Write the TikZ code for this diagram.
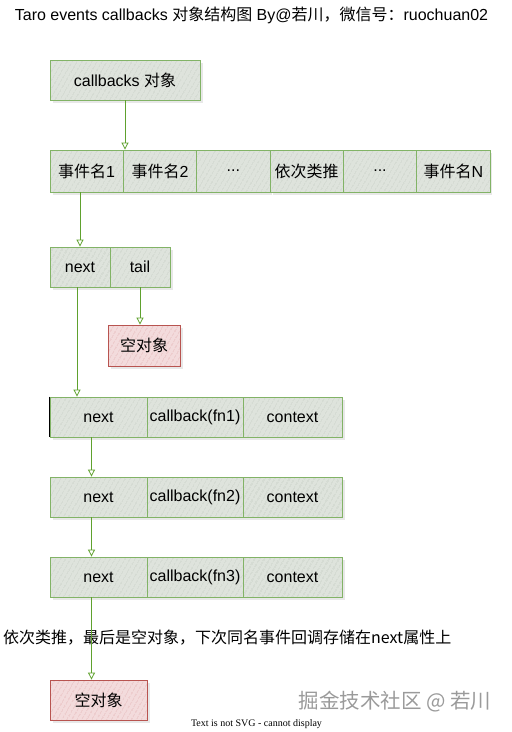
\documentclass[tikz,border=0pt]{standalone}
\usepackage{fontspec}
\setmainfont{Liberation Sans}
\newfontfamily\cjk{Noto Sans CJK SC}
\newfontfamily\serifx{Liberation Serif}
\usetikzlibrary{arrows.meta,patterns.meta,shadows,positioning}
\definecolor{gborder}{HTML}{82B366}
\definecolor{gfill}{HTML}{DEE3DC}
\definecolor{ghatch}{HTML}{C6CDC4}
\definecolor{rborder}{HTML}{B85450}
\definecolor{rfill}{HTML}{F3DBDC}
\definecolor{rhatch}{HTML}{E2B3B4}
\definecolor{arrowc}{HTML}{5FA12E}
\definecolor{wmark}{HTML}{9A9A9A}
\tikzset{
  px/.style={x=1pt,y=-1pt},
  basebox/.style={inner sep=0pt, line width=0.8pt, font=\fontsize{16}{16}\selectfont, text=black,
    drop shadow={opacity=0.18, shadow xshift=2.5pt, shadow yshift=-2.5pt}},
  gbox/.style={basebox, draw=gborder, preaction={fill=gfill},
    pattern={Lines[angle=60,distance=4pt,line width=0.6pt]}, pattern color=ghatch},
  rbox/.style={basebox, draw=rborder, preaction={fill=rfill},
    pattern={Lines[angle=60,distance=4pt,line width=0.6pt]}, pattern color=rhatch},
  arr/.style={draw=arrowc, line width=0.8pt, -{Triangle[open,length=7pt,width=7pt]}},
}
\begin{document}
\begin{tikzpicture}[px]
\useasboundingbox (0,0) rectangle (512,732);
% title
\node[font=\fontsize{16}{16}\selectfont] (title) at (251.5,15) {Taro events callbacks {\cjk 对象结构图} By@{\cjk 若川，微信号：}ruochuan02};
% callbacks object
\node[gbox, minimum width=150pt, minimum height=40pt] (cb) at (125,80) {callbacks {\cjk 对象}};
% event names row
\node[gbox, minimum width=73.33pt, minimum height=42pt] (e1) at (86.67,171) {{\cjk 事件名}1};
\node[gbox, minimum width=73.33pt, minimum height=42pt] (e2) at (160,171) {{\cjk 事件名}2};
\node[gbox, minimum width=73.33pt, minimum height=42pt] (e3) at (233.33,171) {...};
\node[gbox, minimum width=73.33pt, minimum height=42pt] (e4) at (306.67,171) {{\cjk 依次类推}};
\node[gbox, minimum width=73.33pt, minimum height=42pt] (e5) at (380,171) {...};
\node[gbox, minimum width=73.33pt, minimum height=42pt] (e6) at (453.33,171) {{\cjk 事件名}N};
% next / tail
\node[gbox, minimum width=60pt, minimum height=40pt] (nt1) at (80,267) {next};
\node[gbox, minimum width=60pt, minimum height=40pt] (nt2) at (140,267) {tail};
\node[rbox, minimum width=72pt, minimum height=41pt] (n1) at (144,345.5) {{\cjk 空对象}};
% callback rows
\node[gbox, minimum width=97pt, minimum height=40pt] (r1a) at (98.5,417) {next};
\node[gbox, minimum width=96pt, minimum height=40pt] (r1b) at (195,417) {callback(fn1)};
\node[gbox, minimum width=99pt, minimum height=40pt] (r1c) at (292.5,417) {context};
\node[gbox, minimum width=97pt, minimum height=40pt] (r2a) at (98.5,497) {next};
\node[gbox, minimum width=96pt, minimum height=40pt] (r2b) at (195,497) {callback(fn2)};
\node[gbox, minimum width=99pt, minimum height=40pt] (r2c) at (292.5,497) {context};
\node[gbox, minimum width=97pt, minimum height=40pt] (r3a) at (98.5,577) {next};
\node[gbox, minimum width=96pt, minimum height=40pt] (r3b) at (195,577) {callback(fn3)};
\node[gbox, minimum width=99pt, minimum height=40pt] (r3c) at (292.5,577) {context};
\draw[line width=1.6pt, black] (r1a.north west) -- (r1a.south west);
% note
\node[anchor=west, inner sep=0pt, font=\fontsize{16}{16}\selectfont\cjk] (note) at (3,638) {依次类推，最后是空对象，下次同名事件回调存储在next属性上};
\node[rbox, minimum width=97pt, minimum height=40pt] (n2) at (98.5,700) {{\cjk 空对象}};
% watermark
\node[text=wmark, font=\fontsize{20.5}{20.5}\selectfont\cjk] (wm) at (395,702) {掘金技术社区 @ 若川};
\node[font=\fontsize{10}{10}\selectfont\serifx] (svg) at (256.5,724) {Text is not SVG - cannot display};
% connectors
\draw[arr] (cb.south) -- (cb.south |- e1.north);
\draw[arr] (nt1.north |- e1.south) -- (nt1.north);
\draw[arr] (nt2.south) -- (nt2.south |- n1.north);
\draw[arr] ([xshift=-3pt]nt1.south) -- ([xshift=-3pt]nt1.south |- r1a.north);
\draw[arr] ([xshift=-7pt]r1a.south) -- ([xshift=-7pt]r2a.north);
\draw[arr] ([xshift=-7pt]r2a.south) -- ([xshift=-7pt]r3a.north);
\draw[arr] ([xshift=-7pt]r3a.south) -- ([xshift=-7pt]n2.north);
\end{tikzpicture}
\end{document}
